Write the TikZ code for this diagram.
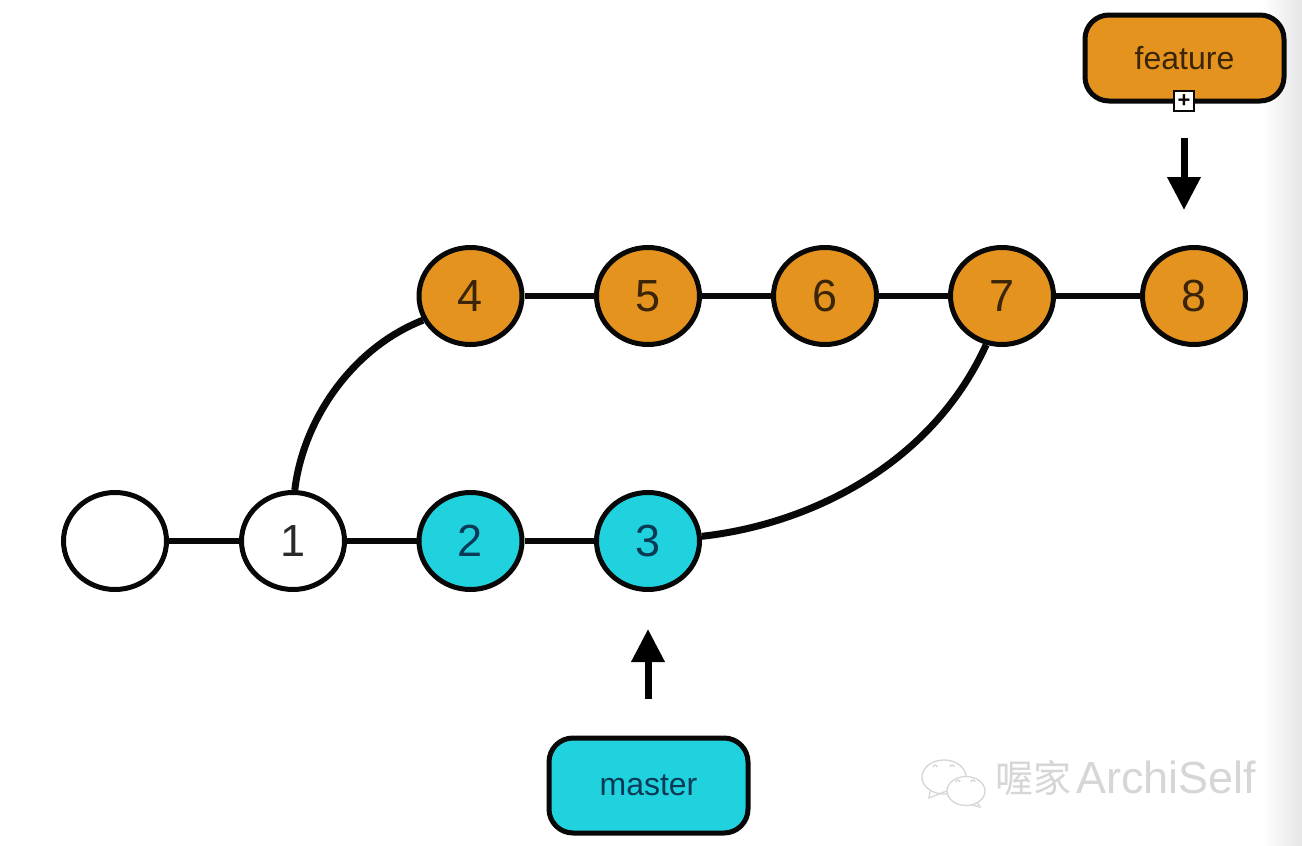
\documentclass[tikz,border=0pt]{standalone}
\usepackage{fontspec}
\setmainfont{Liberation Sans}
\newfontfamily\cjkfont{Noto Sans CJK SC}
\usetikzlibrary{shapes.geometric,arrows.meta}
\definecolor{orangefill}{HTML}{E5931F}
\definecolor{cyanfill}{HTML}{1FD2DE}
\definecolor{ink}{HTML}{080808}
\definecolor{orangetext}{HTML}{3A2508}
\definecolor{cyantext}{HTML}{0A3A55}
\definecolor{whitetext}{HTML}{2A2A2A}
\definecolor{markgray}{HTML}{D6D6D6}
\tikzset{
  commit/.style={ellipse,draw=ink,line width=5pt,minimum width=103pt,minimum height=97pt,inner sep=0pt,font=\fontsize{45}{45}\selectfont},
  orangecommit/.style={commit,fill=orangefill,text=orangetext},
  cyancommit/.style={commit,fill=cyanfill,text=cyantext},
  whitecommit/.style={commit,fill=white,text=whitetext},
  branchbox/.style={rectangle,rounded corners=24pt,draw=ink,line width=5pt,inner sep=0pt,font=\fontsize{32}{32}\selectfont},
  link/.style={draw=ink,line width=6pt},
  curvelink/.style={draw=ink,line width=7pt},
  pointer/.style={draw=black,line width=7pt,-{Triangle[length=33pt,width=32pt]}},
  watermark/.style={draw=markgray,line width=1.3pt,fill=white},
  markline/.style={draw=markgray,line width=1.3pt},
}
\begin{document}
\begin{tikzpicture}[x=1pt,y=-1pt]
\useasboundingbox (0,0) rectangle (1302,846);
\fill[white] (0,0) rectangle (1302,846);
\shade[left color=white,right color=black!10] (1262,0) rectangle (1302,846);

\coordinate (featurefoot) at (1184,138);
\coordinate (featuretip) at (1184,210);
\coordinate (masterfoot) at (648,699);
\coordinate (mastertip) at (648,629);

\node[whitecommit] (n0) at (115,541) {};
\node[whitecommit] (n1) at (293,541) {1};
\node[cyancommit] (n2) at (470.5,541) {2};
\node[cyancommit] (n3) at (648,541) {3};
\node[orangecommit] (n4) at (470.5,296) {4};
\node[orangecommit] (n5) at (648,296) {5};
\node[orangecommit] (n6) at (825,296) {6};
\node[orangecommit] (n7) at (1002,296) {7};
\node[orangecommit] (n8) at (1194,296) {8};

\node[branchbox,fill=orangefill,text=orangetext,minimum width=199pt,minimum height=86pt] (feature) at (1184.5,58) {feature};
\node[branchbox,fill=cyanfill,text=cyantext,minimum width=199pt,minimum height=95pt] (master) at (648.5,785.5) {\raisebox{-2pt}{master}};
\node[rectangle,draw=ink,fill=white,line width=1.8pt,minimum size=20pt,inner sep=0pt,text=ink,font=\fontsize{22}{22}\bfseries] (plus) at (1184,101) {+};

\draw[link] (n0) -- (n1);
\draw[link] (n1) -- (n2);
\draw[link] (n2) -- (n3);
\draw[link] (n4) -- (n5);
\draw[link] (n5) -- (n6);
\draw[link] (n6) -- (n7);
\draw[link] (n7) -- (n8);
\draw[curvelink] (n1.88) .. controls (303,420) and (352,348) .. (n4.207);
\draw[curvelink] (n3.5) .. controls (805,525) and (930,468) .. (n7.-108);

\draw[pointer] (featurefoot) -- (featuretip);
\draw[pointer] (masterfoot) -- (mastertip);

% watermark
\node[ellipse,watermark,minimum width=44pt,minimum height=34pt,inner sep=0pt] (bubbleA) at (944,777) {};
\node[ellipse,watermark,minimum width=38pt,minimum height=29pt,inner sep=0pt] (bubbleB) at (966,791) {};
\draw[markline] (bubbleA.-135) -- (929,798) -- (bubbleB.west);
\draw[markline] (bubbleB.-45) -- (980,807) -- (bubbleB.-65);
\coordinate (eyeA) at (933,767);
\coordinate (eyeB) at (950,767);
\coordinate (eyeC) at (956,782);
\coordinate (eyeD) at (971,782);
\draw[markline] (eyeA) arc[start angle=180,end angle=0,radius=2pt];
\draw[markline] (eyeB) arc[start angle=180,end angle=0,radius=2pt];
\draw[markline] (eyeC) arc[start angle=180,end angle=0,radius=2pt];
\draw[markline] (eyeD) arc[start angle=180,end angle=0,radius=2pt];
\node[anchor=west,text=markgray,inner sep=0pt,font=\fontsize{38}{38}\cjkfont] (markcjk) at (995,778) {喔家};
\node[anchor=west,text=markgray,inner sep=0pt,font=\fontsize{45}{45}\selectfont] (marklatin) at (1076,777) {ArchiSelf};
\end{tikzpicture}
\end{document}
